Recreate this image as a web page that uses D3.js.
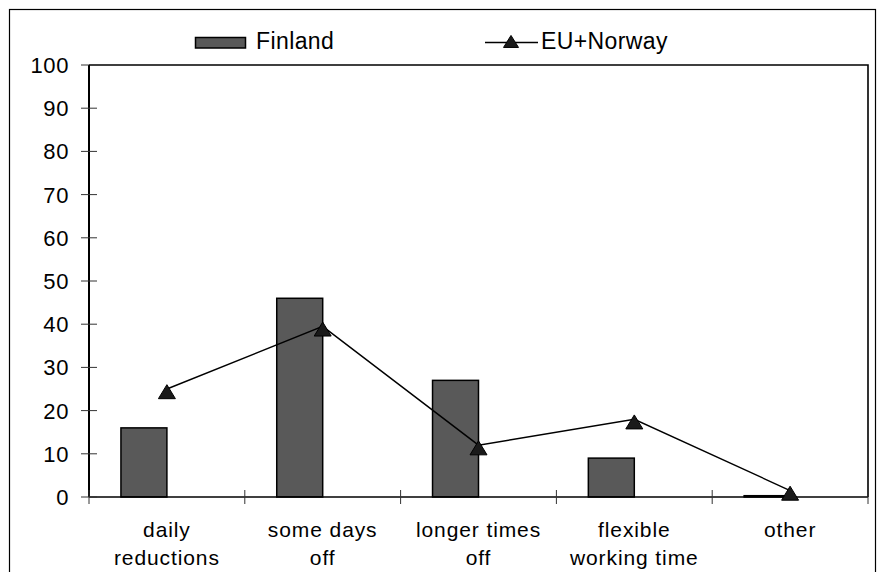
<!DOCTYPE html>
<html>
<head>
<meta charset="utf-8">
<script src="https://cdn.jsdelivr.net/npm/d3@7"></script>
<style>
  html, body { margin: 0; padding: 0; background: #fff; }
  svg { display: block; }
  text { font-family: "Liberation Sans", Arial, sans-serif; fill: #000; }
</style>
</head>
<body>
<svg id="chart" width="877" height="572"></svg>
<script>
// Categories (label lines) and series values
const categories = [
  ["daily", "reductions"],
  ["some days", "off"],
  ["longer times", "off"],
  ["flexible", "working time"],
  ["other"]
];
const finland = [16, 46, 27, 9, 0.3];
const euNorway = [25, 39.5, 12, 18, 1.5];
const yTicks = [0, 10, 20, 30, 40, 50, 60, 70, 80, 90, 100];
const seriesNames = ["Finland", "EU+Norway"];

const svg = d3.select("#chart");
const plot = { left: 89, right: 868, top: 65, bottom: 497 };

// Outer frame
svg.append("rect")
  .attr("x", 9.5).attr("y", 9.5)
  .attr("width", 866).attr("height", 600)
  .attr("fill", "none").attr("stroke", "#000").attr("stroke-width", 1.2);

const keys = categories.map(c => c.join(" "));
const x = d3.scaleBand().domain(keys).range([plot.left, plot.right]).paddingInner(0).paddingOuter(0);
const y = d3.scaleLinear().domain([0, 100]).range([plot.bottom, plot.top]);
const bw = x.bandwidth();
const barW = bw * 0.295;

// Plot box (top and right edges)
svg.append("path")
  .attr("d", `M${plot.left},${y(100)}H${plot.right}V${plot.bottom}`)
  .attr("fill", "none").attr("stroke", "#000").attr("stroke-width", 1.6);

// Bars
svg.append("g").selectAll("rect")
  .data(finland)
  .join("rect")
  .attr("x", (d, i) => x(keys[i]) + bw / 2 - barW)
  .attr("y", d => y(d))
  .attr("width", barW)
  .attr("height", d => y(0) - y(d))
  .attr("fill", "#595959")
  .attr("stroke", "#000")
  .attr("stroke-width", 1.5);

// Axis lines
svg.append("line")
  .attr("x1", plot.left).attr("x2", plot.left)
  .attr("y1", y(100)).attr("y2", y(0))
  .attr("stroke", "#000").attr("stroke-width", 2);
svg.append("line")
  .attr("x1", plot.left).attr("x2", plot.right)
  .attr("y1", y(0)).attr("y2", y(0))
  .attr("stroke", "#000").attr("stroke-width", 1.6);

// Y ticks (crossing the axis) and labels
const yAxis = svg.append("g");
yAxis.selectAll("line")
  .data(yTicks)
  .join("line")
  .attr("x1", plot.left - 8)
  .attr("x2", d => d === 100 ? plot.left : plot.left + 8)
  .attr("y1", d => y(d)).attr("y2", d => y(d))
  .attr("stroke", "#333").attr("stroke-width", 1);
yAxis.selectAll("text")
  .data(yTicks)
  .join("text")
  .attr("x", 69)
  .attr("y", d => y(d))
  .attr("dy", "0.36em")
  .attr("text-anchor", "end")
  .style("font-size", "22px")
  .style("letter-spacing", "0.6px")
  .text(d => d);

// X ticks at category boundaries
const bounds = keys.map(k => x(k)).concat([plot.right]);
svg.append("g").selectAll("line")
  .data(bounds)
  .join("line")
  .attr("x1", d => d).attr("x2", d => d)
  .attr("y1", y(0) - 7).attr("y2", y(0) + 7)
  .attr("stroke", "#333").attr("stroke-width", 1);

// Category labels
const labels = svg.append("g").selectAll("text")
  .data(categories)
  .join("text")
  .attr("text-anchor", "middle")
  .style("font-size", "21px")
  .style("letter-spacing", "0.9px")
  .attr("transform", (d, i) => `translate(${x(keys[i]) + bw / 2},0)`);
labels.selectAll("tspan")
  .data(d => d)
  .join("tspan")
  .attr("x", 0)
  .attr("y", (d, j) => 537 + j * 28)
  .text(d => d);

// Line series
const line = d3.line()
  .x((d, i) => x(keys[i]) + bw / 2)
  .y(d => y(d));
svg.append("path")
  .datum(euNorway)
  .attr("d", line)
  .attr("fill", "none")
  .attr("stroke", "#000")
  .attr("stroke-width", 1.4);

const tri = (cx, cy, w, h) =>
  `M${cx},${cy - h * 0.38}L${cx + w / 2},${cy + h * 0.62}L${cx - w / 2},${cy + h * 0.62}Z`;
svg.append("g").selectAll("path")
  .data(euNorway)
  .join("path")
  .attr("d", (d, i) => tri(x(keys[i]) + bw / 2, y(d) + 1, 17, 14))
  .attr("fill", "#1a1a1a")
  .attr("stroke", "#000")
  .attr("stroke-width", 1);

// Legend
const legend = svg.append("g");
legend.append("rect")
  .attr("x", 195.5).attr("y", 37.5)
  .attr("width", 50).attr("height", 10.5)
  .attr("fill", "#595959").attr("stroke", "#000").attr("stroke-width", 1.5);
legend.append("text")
  .attr("x", 256).attr("y", 48.5)
  .style("font-size", "23px")
  .style("letter-spacing", "0.4px")
  .text(seriesNames[0]);
legend.append("line")
  .attr("x1", 485).attr("x2", 538)
  .attr("y1", 42.5).attr("y2", 42.5)
  .attr("stroke", "#000").attr("stroke-width", 1.4);
legend.append("path")
  .attr("d", tri(511, 40, 15, 12))
  .attr("fill", "#1a1a1a").attr("stroke", "#000").attr("stroke-width", 1);
legend.append("text")
  .attr("x", 541).attr("y", 48.5)
  .style("font-size", "23px")
  .style("letter-spacing", "0.4px")
  .text(seriesNames[1]);
</script>
</body>
</html>
